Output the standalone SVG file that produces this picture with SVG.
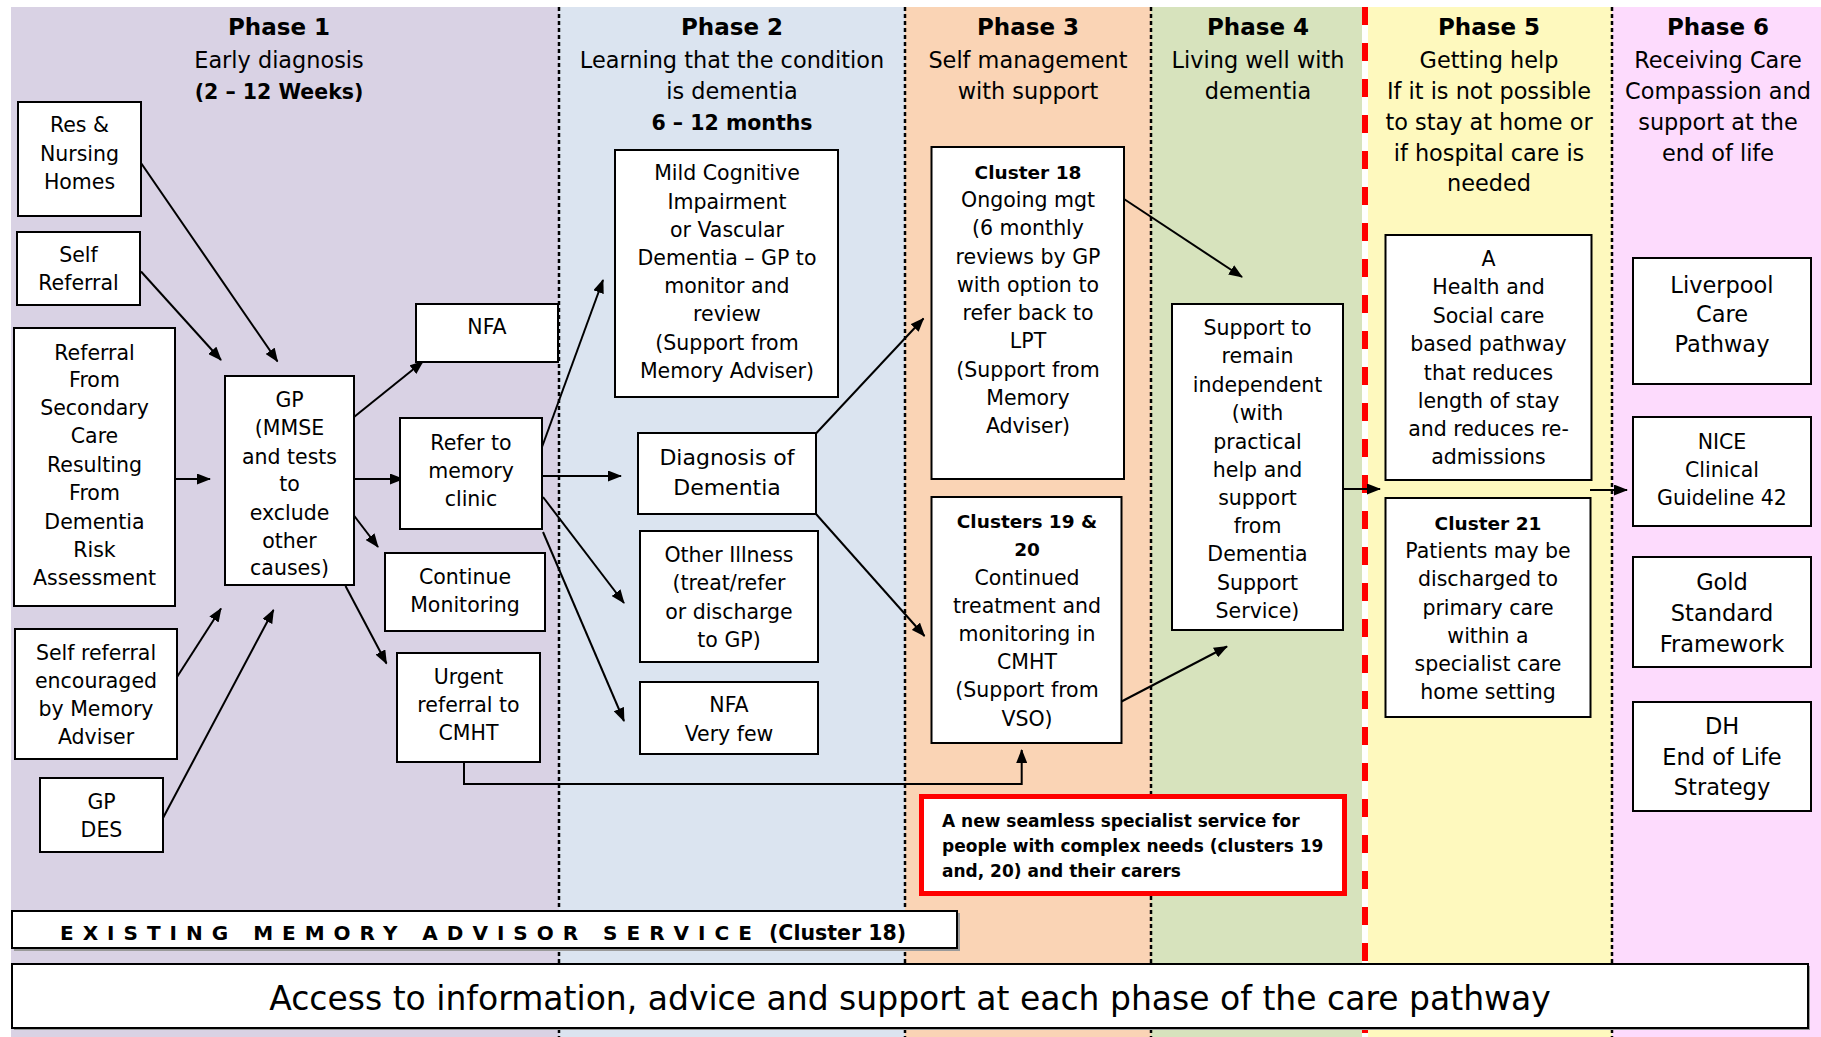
<svg xmlns="http://www.w3.org/2000/svg" width="1821" height="1037" viewBox="0 0 1821 1037">
<style>
.t{font-family:"DejaVu Sans","Liberation Sans",sans-serif;font-size:20.5px;text-anchor:middle;fill:#000}
.b{font-weight:bold;font-size:18.5px}
.lg{font-size:22.5px}
.h{font-family:"DejaVu Sans","Liberation Sans",sans-serif;font-size:22.4px;text-anchor:middle;fill:#000}
.ht{font-weight:bold;font-size:23px}
.hb{font-weight:bold;font-size:20.5px}
.box{fill:#fff;stroke:#000;stroke-width:2}
.dot{stroke:#000;stroke-width:2.5;stroke-dasharray:4 3;fill:none}
.con{stroke:#000;stroke-width:2;fill:none}
.arr{marker-end:url(#ah)}
</style>
<defs>
<marker id="ah" markerWidth="14" markerHeight="11" refX="13" refY="5.5" orient="auto" markerUnits="userSpaceOnUse"><path d="M0,0 L14,5.5 L0,11 z" fill="#000"/></marker>
</defs>
<rect width="1821" height="1037" fill="#fff"/>
<g id="bands">
<rect x="11" y="7" width="548" height="1030" fill="#D9D2E4"/>
<rect x="559" y="7" width="346" height="1030" fill="#DBE4F0"/>
<rect x="905" y="7" width="246" height="1030" fill="#FAD4B5"/>
<rect x="1151" y="7" width="211" height="1030" fill="#D7E3BD"/>
<rect x="1368" y="7" width="244" height="1030" fill="#FEF9BE"/>
<rect x="1612" y="7" width="209" height="1030" fill="#FDDBFD"/>
<line class="dot" x1="559" y1="7" x2="559" y2="1037"/>
<line class="dot" x1="905" y1="7" x2="905" y2="1037"/>
<line class="dot" x1="1151" y1="7" x2="1151" y2="1037"/>
<line class="dot" x1="1612" y1="7" x2="1612" y2="1037"/>
<rect x="1362" y="7" width="6" height="1030" fill="#fff"/>
<line x1="1365" y1="7" x2="1365" y2="1037" stroke="#FF0000" stroke-width="6" stroke-dasharray="18 18"/>
</g>
<g id="headers">
<text class="h"><tspan class="ht" x="279" y="35">Phase 1</tspan><tspan x="279" y="68">Early diagnosis</tspan><tspan class="hb" x="279" y="99">(2 – 12 Weeks)</tspan></text>
<text class="h"><tspan class="ht" x="732" y="35">Phase 2</tspan><tspan x="732" y="68">Learning that the condition</tspan><tspan x="732" y="99">is dementia</tspan><tspan class="hb" x="732" y="129.5">6 – 12 months</tspan></text>
<text class="h"><tspan class="ht" x="1028" y="35">Phase 3</tspan><tspan x="1028" y="68">Self management</tspan><tspan x="1028" y="99">with support</tspan></text>
<text class="h"><tspan class="ht" x="1258" y="35">Phase 4</tspan><tspan x="1258" y="68">Living well with</tspan><tspan x="1258" y="99">dementia</tspan></text>
<text class="h"><tspan class="ht" x="1489" y="35">Phase 5</tspan><tspan x="1489" y="68">Getting help</tspan><tspan x="1489" y="99">If it is not possible</tspan><tspan x="1489" y="130">to stay at home or</tspan><tspan x="1489" y="160.5">if hospital care is</tspan><tspan x="1489" y="191">needed</tspan></text>
<text class="h"><tspan class="ht" x="1718" y="35">Phase 6</tspan><tspan x="1718" y="68">Receiving Care</tspan><tspan x="1718" y="99">Compassion and</tspan><tspan x="1718" y="130">support at the</tspan><tspan x="1718" y="160.5">end of life</tspan></text>
</g>
<g id="connectors">
<line class="con arr" x1="141" y1="163" x2="277.5" y2="361.5"/>
<line class="con arr" x1="141" y1="271.5" x2="221" y2="360"/>
<line class="con arr" x1="175" y1="479" x2="210" y2="479"/>
<line class="con arr" x1="177" y1="677" x2="221" y2="608.5"/>
<line class="con arr" x1="163" y1="818" x2="273.5" y2="610"/>
<line class="con arr" x1="354" y1="417" x2="423" y2="361.5"/>
<line class="con arr" x1="354" y1="479" x2="403" y2="479"/>
<line class="con arr" x1="352" y1="513" x2="378" y2="547"/>
<line class="con arr" x1="345.5" y1="586" x2="386.5" y2="663.5"/>
<line class="con arr" x1="542" y1="447" x2="603" y2="280"/>
<line class="con arr" x1="542" y1="476" x2="621" y2="476"/>
<line class="con arr" x1="543" y1="497" x2="624" y2="603"/>
<line class="con arr" x1="543" y1="532" x2="624" y2="721"/>
<line class="con arr" x1="816" y1="433.5" x2="923.5" y2="318.5"/>
<line class="con arr" x1="816" y1="514" x2="924.5" y2="636"/>
<line class="con arr" x1="1124" y1="199" x2="1242" y2="277"/>
<line class="con arr" x1="1121.5" y1="701.5" x2="1227" y2="646.5"/>
<line class="con arr" x1="1343" y1="489" x2="1380" y2="489"/>
<line class="con arr" x1="1590" y1="490" x2="1627" y2="490"/>
<polyline class="con arr" points="464,762 464,784 1021.7,784 1021.7,750"/>
</g>
<g id="n_res"><rect class="box" x="18" y="102" width="123" height="114"/><text class="t"><tspan x="79.5" y="132">Res &amp;</tspan><tspan x="79.5" y="160.5">Nursing</tspan><tspan x="79.5" y="189">Homes</tspan></text></g>
<g id="n_self"><rect class="box" x="17" y="232" width="123" height="73"/><text class="t"><tspan x="78.5" y="262">Self</tspan><tspan x="78.5" y="290">Referral</tspan></text></g>
<g id="n_refsec"><rect class="box" x="14" y="328" width="161" height="278"/><text class="t"><tspan x="94.5" y="359.5">Referral</tspan><tspan x="94.5" y="387">From</tspan><tspan x="94.5" y="415">Secondary</tspan><tspan x="94.5" y="443">Care</tspan><tspan x="94.5" y="471.5">Resulting</tspan><tspan x="94.5" y="500">From</tspan><tspan x="94.5" y="528.5">Dementia</tspan><tspan x="94.5" y="556.5">Risk</tspan><tspan x="94.5" y="585">Assessment</tspan></text></g>
<g id="n_selfenc"><rect class="box" x="15" y="629" width="162" height="130"/><text class="t"><tspan x="96" y="659.5">Self referral</tspan><tspan x="96" y="687.5">encouraged</tspan><tspan x="96" y="716">by Memory</tspan><tspan x="96" y="744">Adviser</tspan></text></g>
<g id="n_gpdes"><rect class="box" x="40" y="778" width="123" height="74"/><text class="t"><tspan x="101.5" y="808.5">GP</tspan><tspan x="101.5" y="837">DES</tspan></text></g>
<g id="n_gp"><rect class="box" x="225" y="376" width="129" height="209"/><text class="t"><tspan x="289.5" y="407">GP</tspan><tspan x="289.5" y="435">(MMSE</tspan><tspan x="289.5" y="463.5">and tests</tspan><tspan x="289.5" y="491">to</tspan><tspan x="289.5" y="519.5">exclude</tspan><tspan x="289.5" y="547.5">other</tspan><tspan x="289.5" y="575">causes)</tspan></text></g>
<g id="n_nfa1"><rect class="box" x="416" y="304" width="142" height="58"/><text class="t" x="487" y="334">NFA</text></g>
<g id="n_refer"><rect class="box" x="400" y="418" width="142" height="111"/><text class="t"><tspan x="471" y="449.5">Refer to</tspan><tspan x="471" y="477.5">memory</tspan><tspan x="471" y="506">clinic</tspan></text></g>
<g id="n_cont"><rect class="box" x="385" y="553" width="160" height="78"/><text class="t"><tspan x="465" y="583.5">Continue</tspan><tspan x="465" y="612">Monitoring</tspan></text></g>
<g id="n_urgent"><rect class="box" x="397" y="653" width="143" height="109"/><text class="t"><tspan x="468.5" y="683.5">Urgent</tspan><tspan x="468.5" y="712">referral to</tspan><tspan x="468.5" y="740">CMHT</tspan></text></g>
<g id="n_mild"><rect class="box" x="615" y="150" width="223" height="247"/><text class="t"><tspan x="727" y="180">Mild Cognitive</tspan><tspan x="727" y="208.5">Impairment</tspan><tspan x="727" y="237">or Vascular</tspan><tspan x="727" y="265">Dementia – GP to</tspan><tspan x="727" y="292.5">monitor and</tspan><tspan x="727" y="321">review</tspan><tspan x="727" y="349.5">(Support from</tspan><tspan x="727" y="377.5">Memory Adviser)</tspan></text></g>
<g id="n_diag"><rect class="box" x="638" y="433" width="178" height="81"/><text class="t" style="font-size:22px"><tspan x="727" y="465">Diagnosis of</tspan><tspan x="727" y="495">Dementia</tspan></text></g>
<g id="n_other"><rect class="box" x="640" y="531" width="178" height="131"/><text class="t"><tspan x="729" y="562">Other Illness</tspan><tspan x="729" y="590">(treat/refer</tspan><tspan x="729" y="618.5">or discharge</tspan><tspan x="729" y="647">to GP)</tspan></text></g>
<g id="n_nfa2"><rect class="box" x="640" y="682" width="178" height="72"/><text class="t"><tspan x="729" y="712">NFA</tspan><tspan x="729" y="741">Very few</tspan></text></g>
<g id="n_c18"><rect class="box" x="931.5" y="147" width="192.5" height="332"/><text class="t"><tspan class="b" x="1028" y="178.5">Cluster 18</tspan><tspan x="1028" y="206.5">Ongoing mgt</tspan><tspan x="1028" y="235">(6 monthly</tspan><tspan x="1028" y="263.5">reviews by GP</tspan><tspan x="1028" y="291.5">with option to</tspan><tspan x="1028" y="320">refer back to</tspan><tspan x="1028" y="348">LPT</tspan><tspan x="1028" y="376.5">(Support from</tspan><tspan x="1028" y="404.5">Memory</tspan><tspan x="1028" y="433">Adviser)</tspan></text></g>
<g id="n_c1920"><rect class="box" x="931.5" y="497" width="190" height="246"/><text class="t"><tspan class="b" x="1027" y="528">Clusters 19 &amp;</tspan><tspan class="b" x="1027" y="556">20</tspan><tspan x="1027" y="584.5">Continued</tspan><tspan x="1027" y="613">treatment and</tspan><tspan x="1027" y="641">monitoring in</tspan><tspan x="1027" y="669">CMHT</tspan><tspan x="1027" y="697">(Support from</tspan><tspan x="1027" y="725.5">VSO)</tspan></text></g>
<g id="n_support"><rect class="box" x="1172" y="304" width="171" height="326"/><text class="t"><tspan x="1257.5" y="335">Support to</tspan><tspan x="1257.5" y="363">remain</tspan><tspan x="1257.5" y="391.5">independent</tspan><tspan x="1257.5" y="420">(with</tspan><tspan x="1257.5" y="448.5">practical</tspan><tspan x="1257.5" y="477">help and</tspan><tspan x="1257.5" y="505">support</tspan><tspan x="1257.5" y="533">from</tspan><tspan x="1257.5" y="561">Dementia</tspan><tspan x="1257.5" y="589.5">Support</tspan><tspan x="1257.5" y="618">Service)</tspan></text></g>
<g id="n_health"><rect class="box" x="1385.5" y="235" width="206" height="245"/><text class="t"><tspan x="1488.5" y="266">A</tspan><tspan x="1488.5" y="294">Health and</tspan><tspan x="1488.5" y="322.5">Social care</tspan><tspan x="1488.5" y="351">based pathway</tspan><tspan x="1488.5" y="379.5">that reduces</tspan><tspan x="1488.5" y="407.5">length of stay</tspan><tspan x="1488.5" y="435.5">and reduces re-</tspan><tspan x="1488.5" y="463.5">admissions</tspan></text></g>
<g id="n_c21"><rect class="box" x="1385.5" y="498" width="205" height="219"/><text class="t"><tspan class="b" x="1488" y="529.5">Cluster 21</tspan><tspan x="1488" y="557.5">Patients may be</tspan><tspan x="1488" y="586">discharged to</tspan><tspan x="1488" y="614.5">primary care</tspan><tspan x="1488" y="642.5">within a</tspan><tspan x="1488" y="671">specialist care</tspan><tspan x="1488" y="699">home setting</tspan></text></g>
<g id="n_lcp"><rect class="box" x="1633" y="258" width="178" height="126"/><text class="t lg"><tspan x="1722" y="292.5">Liverpool</tspan><tspan x="1722" y="322">Care</tspan><tspan x="1722" y="352">Pathway</tspan></text></g>
<g id="n_nice"><rect class="box" x="1633" y="417" width="178" height="109"/><text class="t"><tspan x="1722" y="448.5">NICE</tspan><tspan x="1722" y="477">Clinical</tspan><tspan x="1722" y="505">Guideline 42</tspan></text></g>
<g id="n_gold"><rect class="box" x="1633" y="557" width="178" height="110"/><text class="t lg"><tspan x="1722" y="590">Gold</tspan><tspan x="1722" y="621">Standard</tspan><tspan x="1722" y="652">Framework</tspan></text></g>
<g id="n_dh"><rect class="box" x="1633" y="702" width="178" height="109"/><text class="t lg"><tspan x="1722" y="733.5">DH</tspan><tspan x="1722" y="764.5">End of Life</tspan><tspan x="1722" y="795">Strategy</tspan></text></g>
<g id="n_red"><rect x="921.5" y="796.5" width="423" height="97" fill="#fff" stroke="#FF0000" stroke-width="5"/><text class="t" style="text-anchor:start;font-weight:bold;font-size:17px"><tspan x="942" y="826.5">A new seamless specialist service for</tspan><tspan x="942" y="851.5">people with complex needs (clusters 19</tspan><tspan x="942" y="877">and, 20) and their carers</tspan></text></g>
<g id="n_existing"><rect x="14" y="913" width="946" height="38" fill="#9a9a9a"/><rect class="box" x="12" y="911" width="945" height="37"/><text class="t" style="text-anchor:start;font-weight:bold;font-size:20px"><tspan x="60" y="939.5" letter-spacing="9">EXISTING MEMORY ADVISOR SERVICE</tspan><tspan x="769" y="939.5" style="font-size:20.5px">(Cluster 18)</tspan></text></g>
<g id="n_access"><rect x="14" y="966" width="1796" height="64" fill="#9a9a9a"/><rect class="box" x="12" y="964" width="1796" height="64"/><text class="t" x="910" y="1009.5" style="font-size:33px">Access to information, advice and support at each phase of the care pathway</text></g>
</svg>
